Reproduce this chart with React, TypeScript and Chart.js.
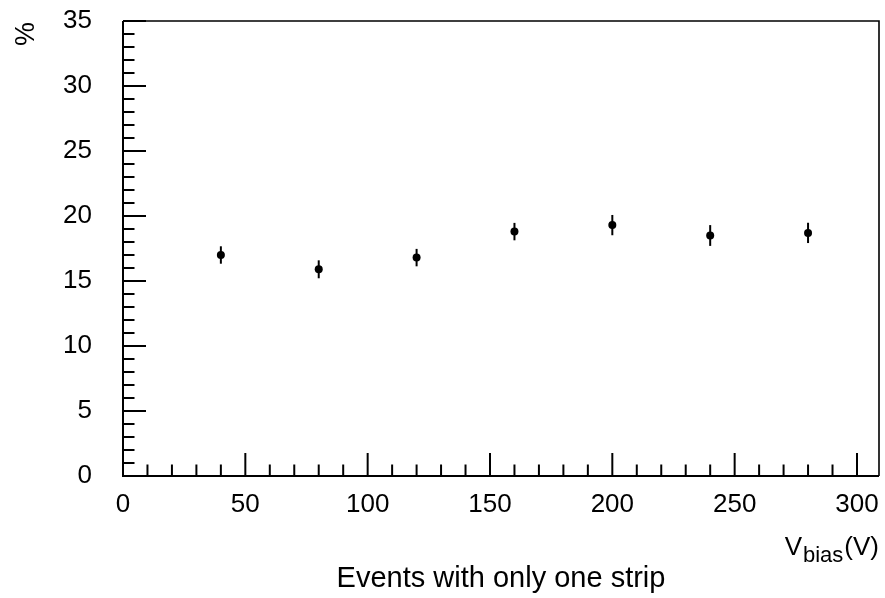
import React, { useEffect, useRef } from 'react';
import { Chart, registerables } from 'chart.js';

Chart.register(...registerables);

// ---- data ----
const biasVoltages = [40, 80, 120, 160, 200, 240, 280];
const oneStripPercent = [17.0, 15.9, 16.8, 18.8, 19.3, 18.5, 18.7];
const oneStripError = [0.67, 0.69, 0.67, 0.67, 0.78, 0.8, 0.78];

// ---- axes ----
const xMajorTicks = [0, 50, 100, 150, 200, 250, 300];
const yMajorTicks = [0, 5, 10, 15, 20, 25, 30, 35];
const xMin = 0;
const xMax = 309;
const yMin = 0;
const yMax = 35;
const xMinorStep = 10;
const yMinorStep = 1;

// ---- texts ----
const chartTitle = 'Events with only one strip';
const yTitle = '%';
const xTitleMain = 'V';
const xTitleSub = 'bias';
const xTitleUnit = '(V)';

const FONT = "'Liberation Sans', Arial, Helvetica, sans-serif";

const rootStylePlugin = {
  id: 'rootStyle',
  beforeDraw(chart: any) {
    const ctx = chart.ctx;
    ctx.save();
    ctx.fillStyle = '#ffffff';
    ctx.fillRect(0, 0, chart.width, chart.height);
    ctx.restore();
  },
  beforeDatasetsDraw(chart: any) {
    const ctx = chart.ctx;
    const xs = chart.scales.x;
    const ys = chart.scales.y;
    ctx.save();
    ctx.strokeStyle = '#000';
    ctx.lineWidth = 2;
    for (let i = 0; i < biasVoltages.length; i++) {
      const px = xs.getPixelForValue(biasVoltages[i]);
      const y1 = ys.getPixelForValue(oneStripPercent[i] - oneStripError[i]);
      const y2 = ys.getPixelForValue(oneStripPercent[i] + oneStripError[i]);
      ctx.beginPath();
      ctx.moveTo(px, y1);
      ctx.lineTo(px, y2);
      ctx.stroke();
    }
    ctx.restore();
  },
  afterDraw(chart: any) {
    const ctx = chart.ctx;
    const xs = chart.scales.x;
    const ys = chart.scales.y;
    const a = chart.chartArea;
    ctx.save();
    ctx.strokeStyle = '#000';
    ctx.lineCap = 'butt';

    // frame
    ctx.lineWidth = 2;
    ctx.beginPath();
    ctx.moveTo(a.left, a.top);
    ctx.lineTo(a.left, a.bottom);
    ctx.lineTo(a.right, a.bottom);
    ctx.stroke();
    ctx.lineWidth = 1.6;
    ctx.beginPath();
    ctx.moveTo(a.left, a.top);
    ctx.lineTo(a.right, a.top);
    ctx.lineTo(a.right, a.bottom);
    ctx.stroke();

    // x ticks (inward)
    ctx.lineWidth = 2;
    for (let v = xMin; v <= xMax; v += xMinorStep) {
      const px = xs.getPixelForValue(v);
      const len = xMajorTicks.includes(v) ? 23 : 11.5;
      ctx.beginPath();
      ctx.moveTo(px, a.bottom);
      ctx.lineTo(px, a.bottom - len);
      ctx.stroke();
    }
    // y ticks (inward)
    for (let v = yMin; v <= yMax; v += yMinorStep) {
      const py = ys.getPixelForValue(v);
      const len = yMajorTicks.includes(v) ? 23 : 11.5;
      ctx.beginPath();
      ctx.moveTo(a.left, py);
      ctx.lineTo(a.left + len, py);
      ctx.stroke();
    }

    ctx.fillStyle = '#000';
    // x axis title with subscript, right aligned to frame
    const mainFont = `26px ${FONT}`;
    const subFont = `22px ${FONT}`;
    ctx.textBaseline = 'alphabetic';
    ctx.textAlign = 'left';
    ctx.font = mainFont;
    const wUnit = ctx.measureText(xTitleUnit).width;
    const wMain = ctx.measureText(xTitleMain).width;
    ctx.font = subFont;
    const wSub = ctx.measureText(xTitleSub).width;
    const baseY = a.bottom + 79;
    let cx = a.right - wUnit - wSub - wMain - 2;
    ctx.font = mainFont;
    ctx.fillText(xTitleMain, cx, baseY);
    cx += wMain + 1;
    ctx.font = subFont;
    ctx.fillText(xTitleSub, cx, baseY + 7);
    cx += wSub + 1;
    ctx.font = mainFont;
    ctx.fillText(xTitleUnit, cx, baseY);

    // y axis title, rotated, at top of axis
    ctx.save();
    ctx.translate(34, a.top + 1);
    ctx.rotate(-Math.PI / 2);
    ctx.textAlign = 'right';
    ctx.font = `27px ${FONT}`;
    ctx.fillText(yTitle, 0, 0);
    ctx.restore();

    // chart title below
    ctx.font = `29px ${FONT}`;
    ctx.textAlign = 'center';
    ctx.fillText(chartTitle, (a.left + a.right) / 2, 587);

    ctx.restore();
  },
};

function ChartView() {
  const ref = useRef<HTMLCanvasElement | null>(null);
  useEffect(() => {
    if (!ref.current) return;
    const chart = new Chart(ref.current, {
      type: 'scatter',
      data: {
        datasets: [
          {
            label: chartTitle,
            data: biasVoltages.map((v, i) => ({ x: v, y: oneStripPercent[i] })),
            backgroundColor: '#000',
            borderColor: '#000',
            borderWidth: 0,
            pointRadius: 4,
            pointHoverRadius: 4,
            showLine: false,
          },
        ],
      },
      options: {
        animation: false,
        responsive: false,
        events: [],
        layout: { padding: { left: 0, right: 6, top: 21, bottom: 0 } },
        plugins: {
          legend: { display: false },
          tooltip: { enabled: false },
          title: { display: false },
        },
        scales: {
          x: {
            type: 'linear',
            min: xMin,
            max: xMax,
            grid: { display: false, drawTicks: false, tickLength: 0 },
            border: { display: false },
            ticks: {
              color: '#000',
              padding: 13,
              font: { family: FONT, size: 26 },
              maxRotation: 0,
              autoSkip: false,
            },
            afterBuildTicks: (scale: any) => {
              scale.ticks = xMajorTicks.map((v) => ({ value: v }));
            },
            afterFit: (scale: any) => {
              scale.height = 122;
              scale.paddingLeft = 0;
              scale.paddingRight = 0;
              scale.paddingTop = 0;
              scale.paddingBottom = 0;
            },
          },
          y: {
            type: 'linear',
            min: yMin,
            max: yMax,
            grid: { display: false, drawTicks: false, tickLength: 0 },
            border: { display: false },
            ticks: {
              color: '#000',
              padding: 31,
              font: { family: FONT, size: 26 },
              autoSkip: false,
            },
            afterBuildTicks: (scale: any) => {
              scale.ticks = yMajorTicks.map((v) => ({ value: v }));
            },
            afterFit: (scale: any) => {
              scale.width = 123;
              scale.paddingLeft = 0;
              scale.paddingRight = 0;
              scale.paddingTop = 0;
              scale.paddingBottom = 0;
            },
          },
        },
      },
      plugins: [rootStylePlugin],
    } as any);
    return () => chart.destroy();
  }, []);
  return (
    <div style={{ position: 'fixed', left: 0, top: 0, width: 885, height: 598, background: '#fff' }}>
      <canvas ref={ref} width={885} height={598} style={{ display: 'block', width: 885, height: 598 }} />
    </div>
  );
}

export default function App() {
  return <ChartView />;
}
